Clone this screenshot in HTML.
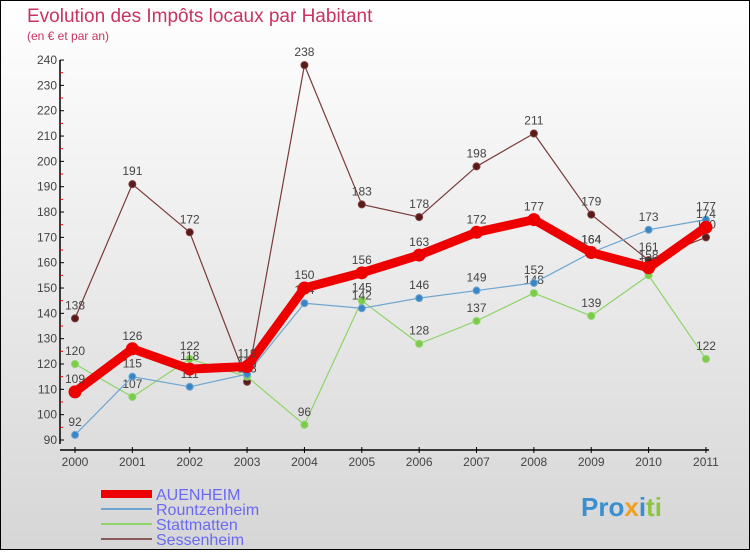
<!DOCTYPE html>
<html><head><meta charset="utf-8"><style>
body{margin:0;width:750px;height:550px;overflow:hidden;font-family:"Liberation Sans",sans-serif}
#wrap{position:relative;width:748px;height:548px;border:1px solid #000;background:linear-gradient(#ffffff,#d6d6d6)}
</style></head><body>
<div id="wrap">
<svg id="chart" width="748" height="548" xmlns="http://www.w3.org/2000/svg">
<text x="26" y="21" font-size="19" fill="#c8345f">Evolution des Impôts locaux par Habitant</text>
<text x="26" y="39" font-size="12" fill="#c8345f">(en € et par an)</text>
<g id="axes"></g><g id="series"></g>
<g font-size="16" fill="#6a6af0">
<rect x="100" y="489" width="51" height="8" fill="#e00"/>
<text x="155" y="499">AUENHEIM</text>
<rect x="100" y="507" width="51" height="2" fill="#6fa6d0"/>
<text x="155" y="514">Rountzenheim</text>
<rect x="100" y="522" width="51" height="2" fill="#8fd46a"/>
<text x="155" y="529">Stattmatten</text>
<rect x="100" y="537" width="51" height="2" fill="#8a5a5a"/>
<text x="155" y="544">Sessenheim</text>
</g>
<text x="580" y="515" font-size="26" font-weight="bold"><tspan fill="#3a8fd0">Pro</tspan><tspan fill="#f0a020">x</tspan><tspan fill="#3a8fd0">i</tspan><tspan fill="#8cc63f">ti</tspan></text>
</svg>
</div>
<script>
const years=[2000,2001,2002,2003,2004,2005,2006,2007,2008,2009,2010,2011];
const auenheim=[109,126,118,119,150,156,163,172,177,164,158,174];
const rountzenheim=[92,115,111,116,144,142,146,149,152,164,173,177];
const stattmatten=[120,107,122,115,96,145,128,137,148,139,155,122];
const sessenheim=[138,191,172,113,238,183,178,198,211,179,161,170];
const yTicks=[90,100,110,120,130,140,150,160,170,180,190,200,210,220,230,240];
const NS="http://www.w3.org/2000/svg";
const X=i=>74+i*57.36, Y=v=>439-(v-90)*2.533;
function mk(tag,attrs,parent){const e=document.createElementNS(NS,tag);for(const k in attrs)e.setAttribute(k,attrs[k]);parent.appendChild(e);return e;}
const ax=document.getElementById('axes');
const yaxis=mk('line',{x1:59,y1:59,x2:59,y2:443,stroke:'#000','stroke-width':1.5},ax);


const xaxis=mk('line',{x1:59,y1:449,x2:708,y2:449,stroke:'#000','stroke-width':1.5},ax);


yTicks.forEach((v,i)=>{
  mk('line',{x1:59,y1:Y(v),x2:63,y2:Y(v),stroke:'#000'},ax);
  if(i<yTicks.length-1)mk('line',{x1:59,y1:Y(v+5),x2:62,y2:Y(v+5),stroke:'#e00'},ax);
  const t=mk('text',{x:56,y:Y(v)+4,'font-size':12,'text-anchor':'end',fill:'#444'},ax);
  t.textContent=v;
  
  
});
years.forEach((y,i)=>{
  mk('line',{x1:X(i),y1:446,x2:X(i),y2:452,stroke:'#000'},ax);
  const t=mk('text',{x:X(i),y:465,'font-size':12,'text-anchor':'middle',fill:'#444'},ax);
  t.textContent=y;
  
  
});
const sg=document.getElementById('series');
function draw(name,data,color,w,r,dot){
  const g=mk('g',{},sg);
  
  
  const p=mk('polyline',{points:data.map((v,i)=>X(i)+','+Y(v)).join(' '),fill:'none',stroke:color,'stroke-width':w,'stroke-linejoin':'round'},g);
  
  
  data.forEach((v,i)=>{
    const c=mk('circle',{cx:X(i),cy:Y(v),r:r,fill:dot,stroke:color,'stroke-width':1},g);
    
    
    const t=mk('text',{x:X(i),y:Y(v)-9,'font-size':12,'text-anchor':'middle',fill:'#444'},g);
    t.textContent=v;
    
    
  });
}
draw('sessenheim',sessenheim,'#7a3a3a',1.2,3.5,'#5a1a1a');
draw('stattmatten',stattmatten,'#8fd46a',1.2,3.5,'#7ccc4a');
draw('rountzenheim',rountzenheim,'#6fa6d0',1.2,3.5,'#3a85c5');
draw('auenheim',auenheim,'#ee0000',9,6,'#ee0000');
</script>
</body></html>
